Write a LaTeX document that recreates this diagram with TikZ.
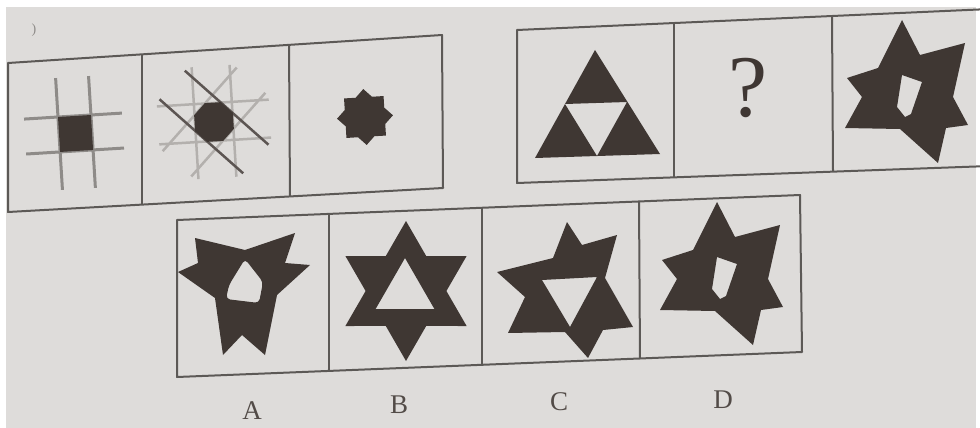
\documentclass[tikz,border=0pt]{standalone}
\usepackage{fontspec}
\setmainfont{Liberation Serif}
\usepackage{tikz}
\definecolor{paper}{HTML}{DEDCDA}
\definecolor{ink}{HTML}{3F3733}
\definecolor{frame}{HTML}{5C5956}
\definecolor{rule}{HTML}{8E8B88}
\definecolor{faint}{HTML}{B3B0AD}
\tikzset{
  box/.style={draw=frame, line width=2pt, line join=round},
  letter/.style={text=ink!90, font=\fontsize{27}{30}\selectfont, inner sep=0pt}
}
% star with an odd hole, used for the last given figure and for D
\newcommand{\holestar}[1]{%
  \begin{scope}[shift={#1}]
    \fill[ink, even odd rule] (902,20) -- (920,55) -- (965,43) -- (953,97) -- (968,125) -- (946,128)
      -- (938,163) -- (900,129) -- (845,128) -- (862,97) -- (847,78) -- (878,68) -- cycle
      (902,75) -- (922,82) -- (911,114) -- (905,117) -- (897,107) -- cycle;
  \end{scope}}

\begin{document}
\begin{tikzpicture}[x=1pt, y=-1pt]
    \useasboundingbox (0,0) rectangle (980,428);
    \clip (0,0) rectangle (980,428);
    \fill[white] (0,0) rectangle (980,428);
    \fill[paper] (6,7) rectangle (976,428);
    \node[text=rule, font=\fontsize{14}{16}\selectfont] (mark) at (34,30) {)};
    % given row, left group
    \draw[box] (8,63) -- (442,35) -- (443,188) -- (8,212) -- cycle;
    \draw[box] (142,54) -- (142,205); \draw[box] (289,45) -- (290,196);
    \begin{scope}[shift={(75,133)}, rotate=3.5]
      \draw[rule, line width=3pt] (-16,-56) -- (-16,56) (17,-56) -- (17,56)
        (-50,-17) -- (48,-17) (-50,18) -- (48,18);
      \fill[ink] (-16,-17) rectangle (17,18);
    \end{scope}
    \begin{scope}[shift={(214,122)}, rotate=3.5]
      \draw[faint, line width=2.5pt] (-19,-56) -- (-19,56) (19,-56) -- (19,56)
        (-56,-19) -- (56,-19) (-56,19) -- (56,19)
        (-53,26) -- (26,-53) (-26,53) -- (53,-26);
      \draw[ink!85, line width=2.5pt] (-26,-53) -- (53,26) (-53,-26) -- (26,53);
      \fill[ink] (22.5:21) \foreach \a in {67.5,112.5,...,337.5} { -- (\a:21) } -- cycle;
    \end{scope}
    \begin{scope}[shift={(365,117)}, rotate=3.5]
      \fill[ink] (90:28) \foreach \a in {90,135,...,405} { -- (\a:28) -- (\a+22.5:21.4) } -- cycle;
    \end{scope}
    % given row, right group
    \draw[box] (517,30) -- (990,9) -- (990,166) -- (517,183) -- cycle;
    \draw[box] (674,23) -- (674,177); \draw[box] (832,16) -- (833,171);
    \fill[ink, even odd rule] (595,50) -- (660,154) -- (535,158) -- cycle
      (565,104) -- (627,102) -- (597,156) -- cycle;
    \node[text=ink, font=\fontsize{88}{92}\selectfont, inner sep=0pt] (ask) at (748,88) {?};
    \holestar{(0,0)}
    % answer row
    \draw[box] (177,220) -- (800,195) -- (802,352) -- (177,377) -- cycle;
    \draw[box] (329,214) -- (329,371); \draw[box] (482,208) -- (482,365); \draw[box] (639,201) -- (640,359);
    \fill[ink, even odd rule] (195,238) -- (245,250) -- (295,233) -- (285,263) -- (310,265) -- (277,295)
      -- (265,355) -- (242,335) -- (223,355) -- (215,298) -- (178,272) -- (198,263) -- cycle
      [rounded corners=4pt] (245,259) -- (263,282) -- (259,303) -- (226,299) -- (229,285) -- cycle;
    \begin{scope}[shift={(406,291)}]
      \fill[ink, even odd rule] (90:70) \foreach \a in {90,150,...,390} { -- (\a:70) -- (\a+30:40.4) } -- cycle
        (-1,-33) -- (28.4,18) -- (-30.4,18) -- cycle;
    \end{scope}
    \fill[ink, even odd rule] (567,222) -- (582,245) -- (617,235) -- (605,278) -- (633,327) -- (603,330)
      -- (588,358) -- (565,332) -- (508,333) -- (525,297) -- (497,272) -- (553,258) -- cycle
      (542,280) -- (597,277) -- (570,327) -- cycle;
    \holestar{(-185,182)}
    \node[letter] (optA) at (252,411) {A};
    \node[letter] (optB) at (399,405) {B};
    \node[letter] (optC) at (559,402) {C};
    \node[letter] (optD) at (723,400) {D};
\end{tikzpicture}
\end{document}
